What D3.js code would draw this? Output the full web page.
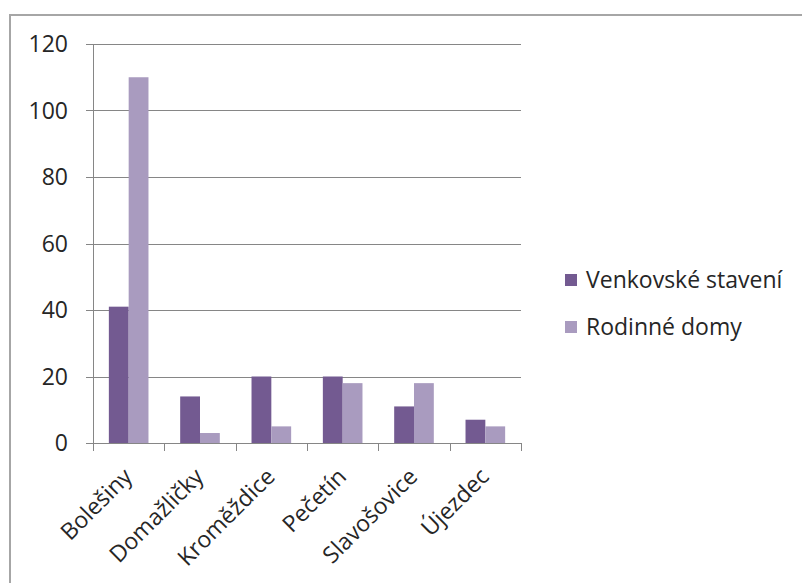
<!DOCTYPE html>
<html>
<head>
<meta charset="utf-8">
<script src="https://cdn.jsdelivr.net/npm/d3@7"></script>
<style>
html,body{margin:0;padding:0;background:#fff;}
svg{display:block;}
text{font-family:"Open Sans",Lato,sans-serif;fill:#262626;}
</style>
</head>
<body>
<svg id="chart" width="802" height="583"></svg>
<script>
const categories = ["Bolešiny","Domažličky","Kroměždice","Pečetín","Slavošovice","Újezdec"];
const seriesNames = ["Venkovské stavení","Rodinné domy"];
const venkovske = [41,14,20,20,11,7];
const rodinne = [110,3,5,18,18,5];
const yTicks = [0,20,40,60,80,100,120];
const colors = ["#735a91","#a99bbf"];

const svg = d3.select("#chart");
// outer frame
svg.append("rect").attr("x",10).attr("y",15).attr("width",800).attr("height",600)
  .attr("fill","none").attr("stroke","#a6a6a6").attr("stroke-width",2);

const x0 = 93, x1 = 521, yTop = 44, yBot = 443;
const x = d3.scaleBand().domain(categories).range([x0,x1]).paddingInner(0).paddingOuter(0);
const y = d3.scaleLinear().domain([0,120]).range([yBot,yTop]);
const inner = d3.scaleBand().domain([0,1]).range([0,x.bandwidth()]).paddingOuter(0.8).paddingInner(0);

// gridlines
svg.append("g").selectAll("line").data(yTicks).join("line")
  .attr("x1",86).attr("x2",x1).attr("y1",d=>Math.round(y(d))+0.5).attr("y2",d=>Math.round(y(d))+0.5)
  .attr("stroke","#868686").attr("stroke-width",1);

// y axis line
svg.append("line").attr("x1",x0+0.5).attr("x2",x0+0.5).attr("y1",yTop).attr("y2",yBot)
  .attr("stroke","#868686");

// y labels
svg.append("g").selectAll("text").data(yTicks).join("text")
  .attr("x",68).attr("y",d=>y(d)).attr("dy","0.36em").attr("text-anchor","end")
  .attr("font-size",23).text(d=>d);

// bars
const data = [venkovske, rodinne];
data.forEach((vals,si)=>{
  svg.append("g").selectAll("rect").data(vals).join("rect")
    .attr("x",(d,i)=>x(categories[i])+inner(si))
    .attr("width",inner.bandwidth())
    .attr("y",d=>y(d)).attr("height",d=>yBot-y(d))
    .attr("fill",colors[si]);
});

// x axis baseline + ticks
svg.append("line").attr("x1",x0).attr("x2",x1).attr("y1",yBot+0.5).attr("y2",yBot+0.5).attr("stroke","#868686");
const tickPos = categories.map(c=>x(c)).concat([x1]);
svg.append("g").selectAll("line").data(tickPos).join("line")
  .attr("x1",d=>Math.round(d)+0.5).attr("x2",d=>Math.round(d)+0.5)
  .attr("y1",yBot).attr("y2",yBot+8).attr("stroke","#868686");

// x labels
svg.append("g").selectAll("text").data(categories).join("text")
  .attr("transform",c=>`translate(${x(c)+x.bandwidth()/2+5},${yBot+35}) rotate(-45)`)
  .attr("text-anchor","end").attr("font-size",23).text(d=>d);

// legend
const lg = svg.append("g");
seriesNames.forEach((n,i)=>{
  const ly = 280 + i*47;
  lg.append("rect").attr("x",565).attr("y",ly-6).attr("width",12).attr("height",12).attr("fill",colors[i]);
  lg.append("text").attr("x",586).attr("y",ly).attr("dy","0.36em").attr("font-size",23).text(n);
});
</script>
</body>
</html>
